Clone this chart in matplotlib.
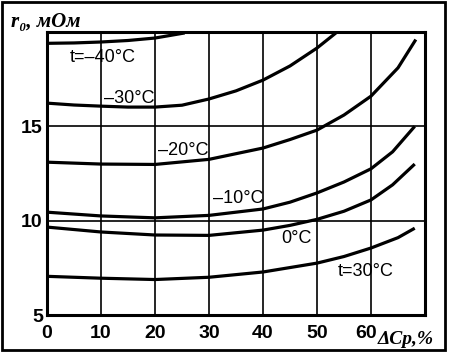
import matplotlib
matplotlib.use("Agg")
import matplotlib.pyplot as plt
from matplotlib.patches import Rectangle
from matplotlib.transforms import ScaledTranslation

# curves: dCp (%) -> r0 (mOhm)
x_m40 = [0, 5, 10, 15, 20, 25.5]
y_m40 = [19.4, 19.42, 19.47, 19.55, 19.68, 19.95]

x_m30 = [0, 5, 10, 15, 20, 25, 30, 35, 40, 45, 50, 53.5]
y_m30 = [16.23, 16.13, 16.07, 16.02, 16.02, 16.12, 16.45, 16.88, 17.45, 18.2, 19.15, 19.95]

x_m20 = [0, 10, 20, 30, 35, 40, 45, 50, 55, 60, 65, 68.3]
y_m20 = [13.1, 13.0, 12.98, 13.25, 13.55, 13.85, 14.3, 14.8, 15.6, 16.6, 18.1, 19.6]

x_m10 = [0, 10, 20, 30, 40, 45, 50, 55, 60, 64, 68.1]
y_m10 = [10.45, 10.25, 10.15, 10.28, 10.62, 10.98, 11.47, 12.05, 12.75, 13.65, 15.0]

x_0 = [0, 10, 20, 30, 40, 45, 50, 55, 60, 64, 68.1]
y_0 = [9.66, 9.4, 9.24, 9.22, 9.5, 9.75, 10.07, 10.5, 11.1, 11.9, 13.0]

x_p30 = [0, 10, 20, 30, 40, 50, 55, 60, 65, 68.1]
y_p30 = [7.05, 6.95, 6.88, 7.0, 7.28, 7.75, 8.1, 8.55, 9.1, 9.6]

curve_labels = ["t=\u201340\u00b0C", "\u201330\u00b0C", "\u201320\u00b0C", "\u201310\u00b0C", "0\u00b0C", "t=30\u00b0C"]
label_pos = [(10.4, 18.67), (15.2, 16.5), (25.2, 13.7), (35.4, 11.15), (46.1, 9.08), (59.1, 7.28)]

xticks = [0, 10, 20, 30, 40, 50, 60, 70]
xtick_labels = ["0", "10", "20", "30", "40", "50", "60", ""]
yticks = [5, 10, 15, 20]
ytick_labels = ["5", "10", "15", ""]

plt.rcParams['font.family'] = ['Liberation Sans', 'DejaVu Sans']

fig = plt.figure(figsize=(4.49, 3.54), dpi=100)
ax = fig.add_axes([47/449, 39/354, 378/449, 283/354])

curves = [(x_m40, y_m40), (x_m30, y_m30), (x_m20, y_m20), (x_m10, y_m10), (x_0, y_0), (x_p30, y_p30)]
for xs, ys in curves:
    ax.plot(xs, ys, color='black', lw=2.3, solid_capstyle='butt')

for txt, (tx, ty) in zip(curve_labels, label_pos):
    ax.text(tx, ty, txt, fontsize=13, ha='center', va='center', color='black')

ax.set_xlim(0, 70)
ax.set_ylim(5, 20)
ax.set_xticks(xticks)
ax.set_xticklabels(xtick_labels, fontsize=14, fontweight='bold')
ax.set_yticks(yticks)
ax.set_yticklabels(ytick_labels, fontsize=14, fontweight='bold')
ax.tick_params(length=0)
ax.tick_params(axis='x', pad=7)
ax.tick_params(axis='y', pad=3)
ax.grid(True, color='black', lw=1.2)
for s in ax.spines.values():
    s.set_linewidth(2.2)

# nudge "60" left so it clears the axis title
lbl60 = ax.get_xticklabels()[6]
lbl60.set_transform(lbl60.get_transform() + ScaledTranslation(-5/100, 0, fig.dpi_scale_trans))

# axis titles
fig.text(11/449, 1 - 27/354, "r\u2080, \u043c\u041e\u043c", fontsize=15, fontweight='bold',
         fontstyle='italic', family='Liberation Serif', ha='left', va='baseline')
fig.text(378/449, 1 - 344/354, "\u0394Cp,%", fontsize=14, fontweight='bold',
         fontstyle='italic', family='Liberation Serif', ha='left', va='baseline')

# outer frame
fig.patches.append(Rectangle((2/449, 4/354), 443/449, 348/354, transform=fig.transFigure,
                             fill=False, edgecolor='black', lw=2))

fig.savefig("out.png", dpi=100)
